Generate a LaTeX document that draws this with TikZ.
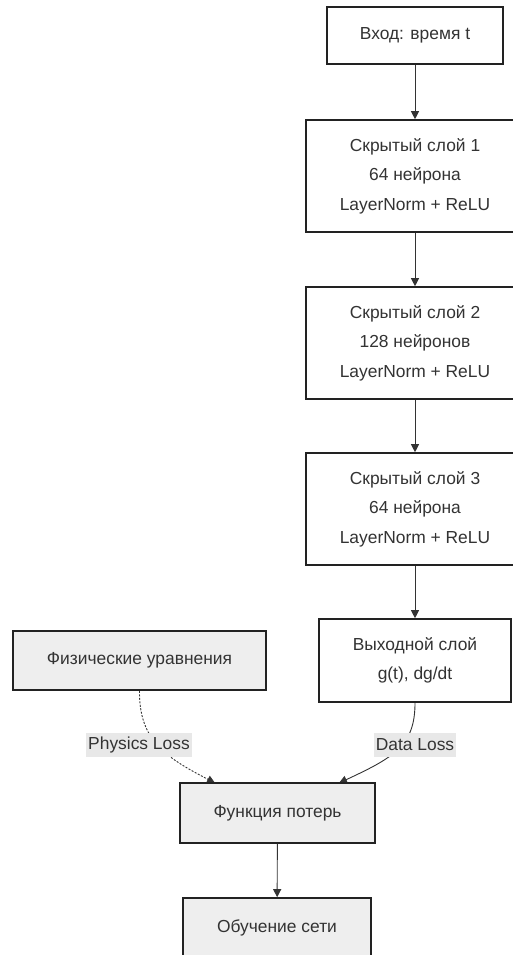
\documentclass[tikz,border=0pt]{standalone}
\usepackage{fontspec}
\setmainfont{Liberation Sans}
\usepackage{xcolor}
\usetikzlibrary{arrows.meta, backgrounds}
\definecolor{boxLine}{HTML}{222222}
\definecolor{boxFill}{HTML}{EEEEEE}
\definecolor{lblFill}{HTML}{E8E8E8}
\definecolor{lineGray}{HTML}{333333}
\definecolor{txtGray}{HTML}{333333}

\begin{document}
\begin{tikzpicture}[x=1pt, y=-1pt,
  every node/.style={font=\fontsize{17.4}{29.5}\selectfont, text=txtGray},
  layerbox/.style={draw=boxLine, line width=1.6pt, fill=white, align=center, inner sep=0pt},
  graybox/.style={layerbox, fill=boxFill},
  edgelbl/.style={fill=lblFill, inner xsep=2pt, inner ysep=0pt, minimum height=24},
  flow/.style={draw=lineGray, line width=0.9pt, -{Triangle[length=8pt, width=8pt]}}]
  \clip (0,0) rectangle (513,955);

  % network: input, hidden layers, output
  \node[layerbox, minimum width=176, minimum height=57] (inp) at (415,35.5) {Вход: время t};
  \node[layerbox, minimum width=218, minimum height=112] (hid1) at (415,176)
    {Скрытый слой 1\\64 нейрона\\LayerNorm + ReLU};
  \node[layerbox, minimum width=218, minimum height=112] (hid2) at (415,343)
    {Скрытый слой 2\\128 нейронов\\LayerNorm + ReLU};
  \node[layerbox, minimum width=218, minimum height=112] (hid3) at (415,509)
    {Скрытый слой 3\\64 нейрона\\LayerNorm + ReLU};
  \node[layerbox, minimum width=192, minimum height=83] (outp) at (415,660.5)
    {Выходной слой\\g(t), dg/dt};

  % physics side and training
  \node[graybox, minimum width=253, minimum height=59] (phys) at (139.5,660.5) {Физические уравнения};
  \node[graybox, minimum width=195, minimum height=60] (loss) at (277.5,813) {Функция потерь};
  \node[graybox, minimum width=188, minimum height=60] (train) at (277,928) {Обучение сети};

  % edge labels
  \node[edgelbl] (plbl) at (139,745) {Physics Loss};
  \node[edgelbl] (dlbl) at (415,745) {Data Loss};
  \coordinate (ptip) at (215,783);
  \coordinate (dtip) at (339,783);

  \draw[flow] (inp) -- (hid1);
  \draw[flow] (hid1) -- (hid2);
  \draw[flow] (hid2) -- (hid3);
  \draw[flow] (hid3) -- (outp);
  \draw[flow] (loss) -- (train);

  \begin{scope}[on background layer]
    \draw[flow, dash pattern=on 2pt off 1.5pt] (phys.south) .. controls (139,740) and (165,757) .. (ptip);
    \draw[flow] (outp.south) .. controls (415,745) and (395,757) .. (dtip);
  \end{scope}
\end{tikzpicture}
\end{document}
